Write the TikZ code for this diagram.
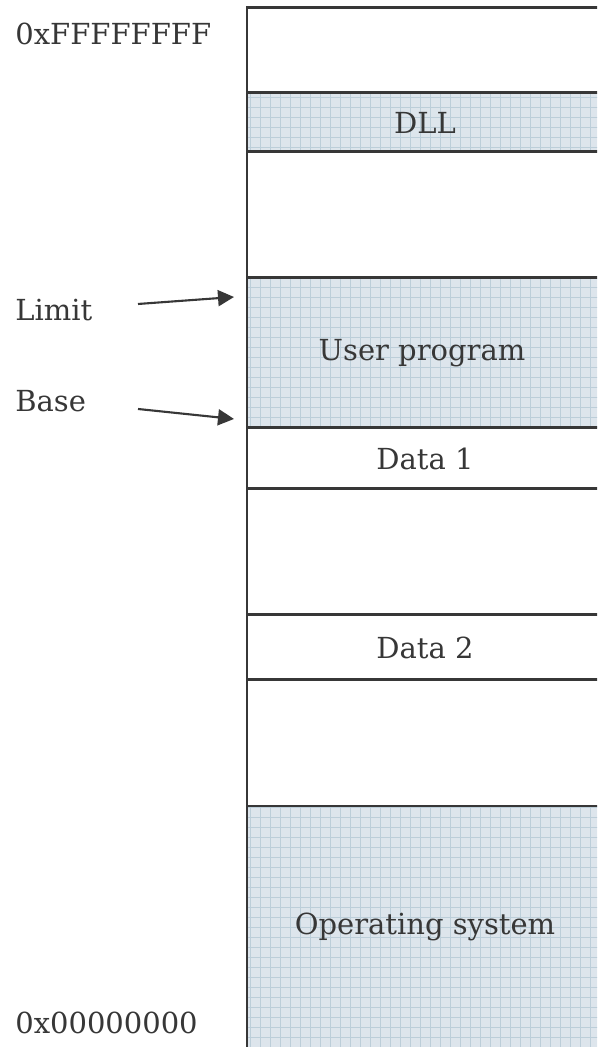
\documentclass[tikz,border=0pt]{standalone}
\usepackage{fontspec}
\setmainfont{DejaVu Serif}
\usetikzlibrary{arrows.meta}

\definecolor{memfill}{RGB}{221,229,236}
\definecolor{memgrid}{RGB}{188,206,217}
\definecolor{ink}{RGB}{55,55,55}

\tikzset{
  seg/.style={draw=ink, line width=1.7pt},
  lbl/.style={text=ink, inner sep=0pt, font=\fontsize{16.5}{20}\selectfont},
  pointer/.style={draw=ink, line width=1.2pt, -{Triangle[length=0.32cm, width=0.32cm]}}
}

\begin{document}
\begin{tikzpicture}

    % --- 画布大小 ---
    \clip (0,0) rectangle (11.94,20.94);

    % 内存条的左右边界（右边界在画布外面）
    \def\xl{4.94}
    \def\xr{12.06}

    % --- 1. 带网格的阴影区：DLL, User program, Operating system ---
    \foreach \ya/\yb in {19.08/17.90, 15.38/12.38, 4.82/-0.1} {
        \fill[memfill] (\xl,\yb) rectangle (\xr,\ya);
        \draw[memgrid, line width=0.45pt, step=0.2] (\xl,\yb) grid (\xr,\ya);
    }

    % --- 2. 分隔线 ---
    \foreach \y in {19.08, 17.90, 15.38, 12.38, 11.16, 8.64, 7.34, 4.82}
        \draw[seg] (\xl,\y) -- (\xr,\y);

    % 顶边和左边
    \draw[seg, line join=miter] (\xr,20.78) -- (\xl,20.78) -- (\xl,-0.1);

    % --- 3. 各段的名字 ---
    \node[lbl] (dll)  at (8.50,18.49) {DLL};
    \node[lbl] (user) at (8.44,13.88) {User program};
    \node[lbl] (d1)   at (8.50,11.77) {Data 1};
    \node[lbl] (d2)   at (8.50,7.99)  {Data 2};
    \node[lbl] (os)   at (8.50,2.41)  {Operating system};

    % --- 4. 左侧的地址 ---
    \node[lbl, anchor=west] (high)  at (0.30,20.26) {0xFFFFFFFF};
    \node[lbl, anchor=west] (low)   at (0.30,0.48)  {0x00000000};
    \node[lbl, anchor=west] (limit) at (0.30,14.74) {Limit};
    \node[lbl, anchor=west] (base)  at (0.30,12.92) {Base};

    % --- 5. Limit / Base 的箭头 ---
    \coordinate (limitTail) at (2.76,14.86);
    \coordinate (limitTip)  at (4.68,15.00);
    \coordinate (baseTail)  at (2.76,12.76);
    \coordinate (baseTip)   at (4.68,12.56);

    \draw[pointer] (limitTail) -- (limitTip);
    \draw[pointer] (baseTail) -- (baseTip);

\end{tikzpicture}
\end{document}
